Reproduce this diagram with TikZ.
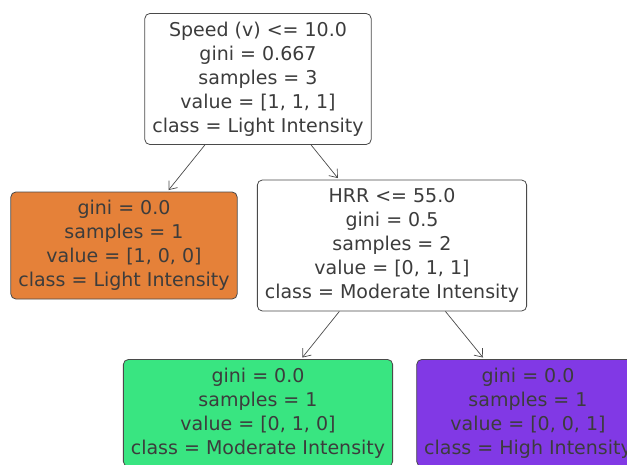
\documentclass[tikz,border=0pt]{standalone}
\usepackage{fontspec}
\setsansfont{DejaVu Sans}
\usepackage{xcolor}
\definecolor{lightOrange}{HTML}{E58139}
\definecolor{moderateGreen}{HTML}{39E581}
\definecolor{highPurple}{HTML}{8139E5}
\definecolor{borderGray}{HTML}{4A4A4A}
\definecolor{darkText}{HTML}{3C3C3C}
\usepackage{tikz}
\usetikzlibrary{
    arrows.meta
}
\tikzset{
    % Base style for all tree boxes
    tree base/.style={
        font=\sffamily\fontsize{19}{24}\selectfont,
        align=center,
        text=darkText,
        draw=borderGray,
        line width=0.8pt,
        rounded corners=5pt,
        inner xsep=7.5pt,
        inner ysep=0pt,
    },
    % Split nodes - white box with the test on top
    split/.style={
        tree base,
        fill=white,
        minimum height=131pt,
    },
    % Leaf nodes - filled with the class colour
    leaf/.style={
        tree base,
        minimum height=107pt,
    },
    % Thin arrow with an open head
    arrow/.style={
        -{Straight Barb[length=7pt, width=11pt]},
        line width=0.7pt,
        draw=borderGray,
        shorten >=2pt,
    },
}

\begin{document}
\begin{tikzpicture}[x=1pt, y=-1pt]
    \useasboundingbox (0,0) rectangle (627,464);
    \clip (0,0) rectangle (627,464);

    \node (root) [split] at (258,79) {Speed (v) <= 10.0\\gini = 0.667\\samples = 3\\value = [1, 1, 1]\\class = Light Intensity};
    \node (light) [leaf, fill=lightOrange] at (124,245.5) {gini = 0.0\\samples = 1\\value = [1, 0, 0]\\class = Light Intensity};
    \node (hrr) [split] at (392,245.5) {HRR <= 55.0\\gini = 0.5\\samples = 2\\value = [0, 1, 1]\\class = Moderate Intensity};
    \node (moderate) [leaf, fill=moderateGreen] at (258,413) {gini = 0.0\\samples = 1\\value = [0, 1, 0]\\class = Moderate Intensity};
    \node (high) [leaf, fill=highPurple] at (528,413) {gini = 0.0\\samples = 1\\value = [0, 0, 1]\\class = High Intensity};

    \draw [arrow] (root) -- (light);
    \draw [arrow] (root) -- (hrr);
    \draw [arrow] (hrr) -- (moderate);
    \draw [arrow] (hrr) -- (high);
\end{tikzpicture}
\end{document}
